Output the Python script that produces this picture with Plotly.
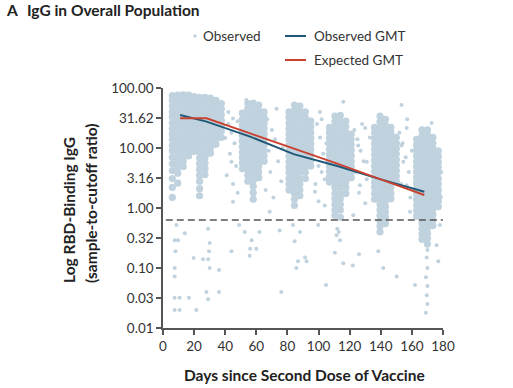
import plotly.graph_objects as go

# ---------------- data ----------------
gmt_days = [11, 28, 56, 84, 112, 140, 168]
observed_gmt = [35.5, 27.5, 15.5, 7.9, 5.0, 3.0, 1.87]
expected_gmt = [31.2, 31.2, 17.5, 9.9, 5.5, 3.0, 1.65]
cutoff = 0.63

x_ticks = [0, 20, 40, 60, 80, 100, 120, 140, 160, 180]
y_tickvals = [0.01, 0.0316, 0.1, 0.3162, 1, 3.162, 10, 31.62, 100]
y_ticktext = ["0.01", "0.03", "0.10", "0.32", "1.00", "3.16", "10.00", "31.62", "100.00"]

# dense clusters of observed values (columns of day -> values)
clA_days = [6, 9.5, 13, 16.5, 20]
clA_vals = [
    [75, 62, 50, 40, 33, 26, 21, 17, 13.8, 11, 9, 7, 5.5, 4.2, 3.1, 2.2, 1.5],
    [76, 63, 51, 41, 33.5, 27, 22, 17.5, 14, 11.5, 9.2, 7.4, 6, 4.8, 3.8, 2.6],
    [77, 64, 52, 42, 34, 27.5, 22.5, 18, 14.5, 11.8, 9.6, 7.7, 6.1, 4.9],
    [76, 63, 51, 41, 33, 27, 22, 17.8, 14.3, 11.5, 9.3, 7.4],
    [72, 60, 49, 40, 32, 26, 21, 17, 13.5, 11, 8.8],
]
clB_days = [23.5, 27, 30.5, 34, 37.5]
clB_vals = [
    [70, 57, 46, 37, 30, 24.5, 20, 16, 13, 10.5, 8.5, 6.8, 5.5, 4.4, 3.5, 2.8, 2.1, 1.6],
    [70, 57, 46, 37.5, 30, 24.5, 20, 16, 13, 10.5, 8.5, 6.9, 5.6, 4.5, 3.6],
    [68, 55, 45, 36, 29, 23.5, 19, 15.5, 12.5, 10, 8.2],
    [62, 50, 41, 33, 27, 22, 17.5, 14, 11.5],
    [55, 45, 36, 29, 23.5, 19, 15],
]
clC_days = [51, 54.5, 58, 61.5, 65]
clC_vals = [
    [38, 30, 24, 19.5, 16, 13, 10.5, 8.5, 6.9, 5.6, 4.5],
    [55, 45, 36, 29, 23.5, 19, 15.5, 12.5, 10, 8.2, 6.6, 5.3, 4.3, 3.5, 2.8],
    [56, 46, 37, 30, 24, 19.5, 16, 13, 10.5, 8.5, 6.9, 5.6, 4.5, 3.6, 2.9, 2.3, 1.8, 1.4],
    [52, 42, 34, 27.5, 22, 18, 14.5, 11.8, 9.5, 7.7, 6.2, 5, 4, 3.2],
    [40, 32, 26, 21, 17, 14, 11.3, 9.2, 7.4, 6],
]
clD_days = [81, 84.5, 88, 91.5, 95]
clD_vals = [
    [40, 32, 26, 21, 17, 13.8, 11.2, 9, 7.3, 5.9, 4.8, 3.9, 3.1, 2.5, 2],
    [52, 42, 34, 27.5, 22, 18, 14.5, 11.8, 9.5, 7.7, 6.2, 5, 4.1, 3.3, 2.7, 2.2, 1.75, 1.4, 1.1],
    [50, 40, 32.5, 26, 21, 17, 13.8, 11.2, 9, 7.3, 5.9, 4.8, 3.9, 3.1, 2.5, 2, 1.6],
    [40, 32, 26, 21, 17, 13.8, 11.2, 9, 7.3, 5.9, 4.8, 3.9, 3.1],
    [28, 22.5, 18, 14.5, 11.8, 9.5, 7.7, 6.2, 5],
]
clE_days = [107, 110.5, 114, 117.5, 121]
clE_vals = [
    [22, 18, 14.5, 11.8, 9.5, 7.7, 6.2, 5, 4.1, 3.3, 2.7],
    [34, 27.5, 22, 18, 14.5, 11.8, 9.5, 7.7, 6.2, 5, 4.1, 3.3, 2.7, 2.2, 1.75, 1.42, 1.15, 0.93, 0.75],
    [35, 28, 22.5, 18.2, 14.7, 12, 9.7, 7.8, 6.3, 5.1, 4.1, 3.3, 2.7, 2.2, 1.75, 1.42, 1.15, 0.93, 0.7],
    [28, 22.5, 18, 14.5, 11.8, 9.5, 7.7, 6.2, 5, 4.1, 3.3, 2.7, 2.2, 1.75],
    [17, 14, 11.3, 9.2, 7.4, 6, 4.9, 4, 3.2],
]
clF_days = [136, 139.5, 143, 146.5, 150]
clF_vals = [
    [22, 18, 14.5, 11.8, 9.5, 7.7, 6.2, 5, 4.1, 3.3, 2.7, 2.2, 1.75, 1.4],
    [34, 27.5, 22, 18, 14.5, 11.8, 9.5, 7.7, 6.2, 5, 4.1, 3.3, 2.7, 2.2, 1.75, 1.42, 1.15, 0.93, 0.75, 0.61, 0.5, 0.4],
    [30, 24, 19.5, 16, 13, 10.5, 8.5, 6.9, 5.6, 4.5, 3.7, 3, 2.4, 1.95, 1.6, 1.3, 1.05, 0.85, 0.7, 0.55],
    [22, 18, 14.5, 11.8, 9.5, 7.7, 6.2, 5, 4.1, 3.3, 2.7, 2.2, 1.75, 1.42],
    [15, 12, 9.8, 8, 6.4, 5.2, 4.2, 3.4, 2.8],
]
clG_days = [163, 166.5, 170, 173.5, 177]
clG_vals = [
    [14, 11.3, 9.2, 7.4, 6, 4.9, 4, 3.2, 2.6, 2.1, 1.7, 1.38, 1.12, 0.9, 0.73],
    [20, 16, 13, 10.5, 8.5, 6.9, 5.6, 4.5, 3.7, 3, 2.4, 1.95, 1.6, 1.3, 1.05, 0.85, 0.7, 0.56, 0.45, 0.37, 0.3],
    [20, 16.5, 13.4, 10.8, 8.8, 7.1, 5.8, 4.7, 3.8, 3.1, 2.5, 2, 1.65, 1.33, 1.08, 0.88, 0.71, 0.58, 0.47, 0.38, 0.31, 0.25],
    [15, 12, 9.8, 8, 6.4, 5.2, 4.2, 3.4, 2.8, 2.25, 1.8, 1.47, 1.2, 0.97, 0.78, 0.63, 0.51],
    [9, 7.3, 5.9, 4.8, 3.9, 3.1, 2.5, 2, 1.6, 1.3, 1.05],
]

# sparse observed points (outliers)
sparse_days = [8.6, 7.5, 9.6, 8, 7.5, 7.5, 7.5, 10.7, 16.7, 7.5, 10.7, 21.4, 14, 19.7, 25.7, 29, 30,
               29.6, 30, 29, 27.9, 29, 36, 36, 44, 45, 49, 52.5, 57, 56, 55.7, 60, 62, 76, 75, 68.6,
               44, 40, 45, 53.6, 83.6, 84.6, 86.8, 85.7, 88,
               115.9, 153.4, 156.6, 172.7, 91.3, 92.3, 104.8, 110.5, 115.9, 122, 126, 111.6, 113.8,
               138.4, 141.6, 150.2, 91, 100.9, 97.7, 102, 104, 126.6, 131, 125.5, 130, 156.6, 158.8,
               154.5, 153.4, 178, 175.9, 177, 162, 149, 122.3, 99.8,
               42, 44, 46, 43, 47, 41, 45, 48, 42, 48,
               67, 70, 72, 68, 74, 69, 76, 71, 73, 77, 66,
               99, 101, 103, 100, 104, 98, 102, 105, 100,
               123, 125, 127, 129, 124, 131, 126, 133, 128, 130,
               152, 154, 156, 158, 153, 159, 157, 160, 179, 178.5,
               170, 169.5, 170, 169, 170, 169.5, 170, 169, 112, 113]
sparse_vals = [0.52, 0.29, 0.29, 0.19, 0.10, 0.072, 0.032, 0.032, 0.032, 0.02, 0.02, 0.02, 0.38, 0.147, 0.14, 0.14, 0.1,
               0.19, 0.26, 0.45, 0.04, 0.03, 0.04, 0.093, 0.19, 1.27, 0.52, 0.4, 0.29, 0.21, 0.16, 0.21, 0.4, 0.04, 0.42, 0.87,
               5.9, 14.7, 31, 63, 0.52, 0.28, 0.13, 0.10, 0.4,
               59, 52, 21.5, 26, 0.15, 0.13, 0.052, 0.18, 0.12, 0.11, 0.17, 0.35, 0.29,
               0.19, 0.1, 0.072, 18.7, 40, 1.87, 4, 1.1, 2.4, 5.9, 11, 21.5, 2.4, 0.87,
               5.9, 11, 0.52, 0.24, 0.13, 0.052, 8.7, 0.76, 0.52,
               25, 18, 12, 8, 5, 3.5, 2.5, 1.8, 40, 28,
               30, 20, 14, 9, 6, 4, 2.8, 1.5, 45, 10, 2,
               25, 15, 8, 5, 3, 2.5, 30, 12, 1.3,
               20, 14, 9, 6, 4, 3, 1.8, 15, 25, 1.2,
               18, 12, 7, 4, 2.5, 1.5, 30, 9, 4, 1.5,
               0.2, 0.15, 0.1, 0.07, 0.05, 0.035, 0.025, 0.018, 0.45, 0.4]

# ---------------- figure ----------------
W, H = 513, 388
L, R, T, B = 163, 443, 88, 328
POINT = "#bfd2de"
BLUE = "#1f5877"
RED = "#c9412f"
TXT = "#333333"
AX = "#555555"
FONT = "Lato"
BOLD_SIZE = 15.5


def px(xp):
    return (xp - L) / (R - L)


def py(yp):
    return (B - yp) / (B - T)


core_x, core_y = [], []
for ds, vs in [(clA_days, clA_vals), (clB_days, clB_vals), (clC_days, clC_vals), (clD_days, clD_vals),
               (clE_days, clE_vals), (clF_days, clF_vals), (clG_days, clG_vals)]:
    for d, col in zip(ds, vs):
        for v in col:
            core_x.append(d)
            core_y.append(v)

fig = go.Figure()
fig.add_trace(go.Scatter(x=core_x, y=core_y, mode="markers", name="Observed",
                         marker=dict(color=POINT, size=7.2, line=dict(width=0)),
                         showlegend=False, hoverinfo="skip"))
fig.add_trace(go.Scatter(x=sparse_days, y=sparse_vals, mode="markers", name="Observed",
                         marker=dict(color=POINT, size=4, line=dict(width=0)),
                         showlegend=False, hoverinfo="skip"))
fig.add_trace(go.Scatter(x=[1.8, 180], y=[cutoff, cutoff], mode="lines",
                         line=dict(color=AX, width=1.5, dash="7px,4px"),
                         showlegend=False, hoverinfo="skip"))
fig.add_trace(go.Scatter(x=gmt_days, y=observed_gmt, mode="lines", name="Observed GMT",
                         line=dict(color=BLUE, width=2), showlegend=False))
fig.add_trace(go.Scatter(x=gmt_days, y=expected_gmt, mode="lines", name="Expected GMT",
                         line=dict(color=RED, width=2), showlegend=False))

annotations = [
    dict(x=px(4), y=py(10), text="<b>A</b>", xanchor="left", yanchor="middle",
         font=dict(size=BOLD_SIZE, color="#222")),
    dict(x=px(25), y=py(10), text="<b>IgG in Overall Population</b>", xanchor="left", yanchor="middle",
         font=dict(size=BOLD_SIZE, color="#222")),
    dict(x=px(201), y=py(36), text="Observed", xanchor="left", yanchor="middle",
         font=dict(size=13.5, color=TXT)),
    dict(x=px(312), y=py(36), text="Observed GMT", xanchor="left", yanchor="middle",
         font=dict(size=13.5, color=TXT)),
    dict(x=px(312), y=py(60), text="Expected GMT", xanchor="left", yanchor="middle",
         font=dict(size=13.5, color=TXT)),
    dict(x=px(69), y=py(285), text="<b>Log RBD-Binding IgG</b>", textangle=-90,
         xanchor="center", yanchor="bottom", font=dict(size=BOLD_SIZE, color="#222")),
    dict(x=px(91), y=py(285), text="<b>(sample-to-cutoff ratio)</b>", textangle=-90,
         xanchor="center", yanchor="bottom", font=dict(size=BOLD_SIZE, color="#222")),
    dict(x=px(304), y=py(375), text="<b>Days since Second Dose of Vaccine</b>",
         xanchor="center", yanchor="middle", font=dict(size=BOLD_SIZE, color="#222")),
]
for a in annotations:
    a.update(xref="paper", yref="paper", showarrow=False)

shapes = [
    dict(type="circle", xref="paper", yref="paper", x0=px(193.3), x1=px(196.7), y0=py(37.7), y1=py(34.3),
         fillcolor=POINT, line=dict(width=0)),
    dict(type="line", xref="paper", yref="paper", x0=px(285), x1=px(306), y0=py(36), y1=py(36),
         line=dict(color=BLUE, width=2)),
    dict(type="line", xref="paper", yref="paper", x0=px(285), x1=px(306), y0=py(60), y1=py(60),
         line=dict(color=RED, width=2)),
]

fig.update_layout(
    width=W, height=H,
    margin=dict(l=L, r=W - R, t=T, b=H - B, pad=0),
    paper_bgcolor="white", plot_bgcolor="white",
    font=dict(family=FONT, size=13, color=TXT),
    showlegend=False,
    annotations=annotations,
    shapes=shapes,
    xaxis=dict(range=[0, 180], tickvals=x_ticks, ticks="outside", ticklen=5, tickwidth=1.5,
               tickcolor=AX, showline=True, linecolor=AX, linewidth=1.5, showgrid=False,
               zeroline=False, tickfont=dict(size=13.5, color=TXT)),
    yaxis=dict(type="log", range=[-2, 2], tickvals=y_tickvals, ticktext=y_ticktext,
               ticks="outside", ticklen=5, tickwidth=1.5, tickcolor=AX, showline=True,
               linecolor=AX, linewidth=1.5, showgrid=False, zeroline=False,
               tickfont=dict(size=13.5, color=TXT)),
)

fig.write_html("out.html", config={"displayModeBar": False},
               post_script="document.body.style.margin='0';document.body.style.padding='0';")
